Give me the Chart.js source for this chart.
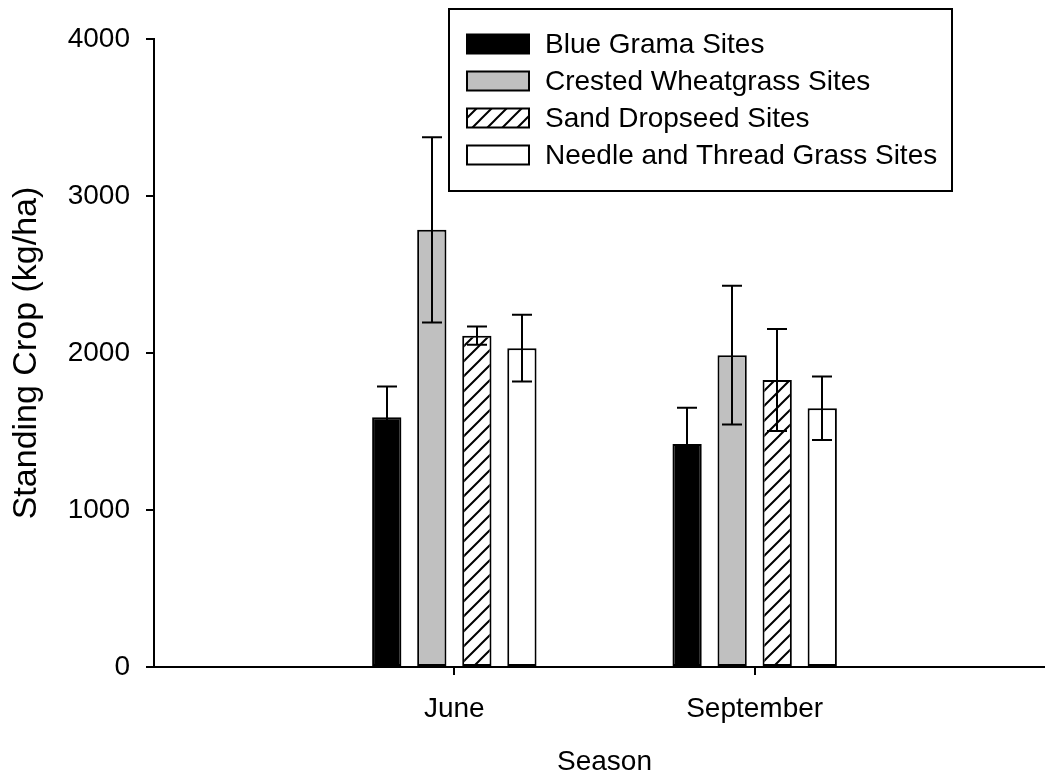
<!DOCTYPE html>
<html>
<head>
<meta charset="utf-8">
<script src="https://cdn.jsdelivr.net/npm/chart.js@4.4.1/dist/chart.umd.min.js"></script>
<style>
  html, body { margin: 0; padding: 0; background: #ffffff; overflow: hidden; }
  #wrap { width: 1045px; height: 776px; overflow: hidden; }
  #c { display: block; }
</style>
</head>
<body>
<div id="wrap"><canvas id="c" width="1072" height="776"></canvas></div>
<script>
// ---- data ----
const categories = ['', 'June', 'September', ''];
const seriesNames = ['Blue Grama Sites', 'Crested Wheatgrass Sites', 'Sand Dropseed Sites', 'Needle and Thread Grass Sites'];
const blueGrama = [null, 1590, 1420, null];
const blueGramaErr = [null, 197, 231, null];
const crestedWheatgrass = [null, 2785, 1986, null];
const crestedWheatgrassErr = [null, 590, 442, null];
const sandDropseed = [null, 2110, 1828, null];
const sandDropseedErr = [null, 58, 325, null];
const needleThread = [null, 2031, 1648, null];
const needleThreadErr = [null, 213, 202, null];
const yTicks = [0, 1000, 2000, 3000, 4000];

const FONT = 'Arial, "Liberation Sans", sans-serif';

// hatch pattern
function makeHatch() {
  const s = 15;
  const pc = document.createElement('canvas');
  pc.width = s; pc.height = s;
  const g = pc.getContext('2d');
  g.fillStyle = '#ffffff';
  g.fillRect(0, 0, s, s);
  g.strokeStyle = '#000000';
  g.lineWidth = 2;
  g.beginPath();
  g.moveTo(-2, s + 2); g.lineTo(s + 2, -2);
  g.moveTo(-2, 2); g.lineTo(2, -2);
  g.moveTo(s - 2, s + 2); g.lineTo(s + 2, s - 2);
  g.stroke();
  return document.getElementById('c').getContext('2d').createPattern(pc, 'repeat');
}
const hatch = makeHatch();

const fills = ['#000000', '#c0c0c0', hatch, '#ffffff'];
const values = [blueGrama, crestedWheatgrass, sandDropseed, needleThread];
const errors = [blueGramaErr, crestedWheatgrassErr, sandDropseedErr, needleThreadErr];

const datasets = seriesNames.map((name, i) => ({
  label: name,
  data: values[i],
  errors: errors[i],
  backgroundColor: fills[i],
  borderColor: '#000000',
  borderWidth: 2,
  borderSkipped: false,
  categoryPercentage: 0.6,
  barPercentage: 0.65
}));

const errorBarPlugin = {
  id: 'errorBars',
  afterDatasetsDraw(chart) {
    const ctx = chart.ctx;
    const y = chart.scales.y;
    ctx.save();
    ctx.strokeStyle = '#000000';
    ctx.lineWidth = 2;
    chart.data.datasets.forEach((ds, i) => {
      const meta = chart.getDatasetMeta(i);
      ds.data.forEach((v, j) => {
        if (v === null || v === undefined) return;
        const e = ds.errors[j];
        const bar = meta.data[j];
        const x = Math.round(bar.x);
        const yt = y.getPixelForValue(v + e);
        const yb = y.getPixelForValue(v - e);
        const cap = 10;
        ctx.beginPath();
        ctx.moveTo(x, yt); ctx.lineTo(x, yb);
        ctx.moveTo(x - cap, yt); ctx.lineTo(x + cap, yt);
        ctx.moveTo(x - cap, yb); ctx.lineTo(x + cap, yb);
        ctx.stroke();
      });
    });
    ctx.restore();
  }
};

const legendPlugin = {
  id: 'boxLegend',
  afterDraw(chart) {
    const ctx = chart.ctx;
    ctx.save();
    const bx = 449, by = 9, bw = 503, bh = 182;
    ctx.fillStyle = '#ffffff';
    ctx.fillRect(bx, by, bw, bh);
    ctx.strokeStyle = '#000000';
    ctx.lineWidth = 2;
    ctx.strokeRect(bx, by, bw, bh);
    const rows = [44, 81, 118, 155];
    ctx.font = '28px ' + FONT;
    ctx.textBaseline = 'middle';
    chart.data.datasets.forEach((ds, i) => {
      const cy = rows[i];
      ctx.fillStyle = ds.backgroundColor;
      ctx.fillRect(467, cy - 9.5, 62, 19);
      ctx.strokeStyle = '#000000';
      ctx.lineWidth = 2;
      ctx.strokeRect(467, cy - 9.5, 62, 19);
      ctx.fillStyle = '#000000';
      ctx.fillText(ds.label, 545, cy + 1);
    });
    ctx.restore();
  }
};

new Chart(document.getElementById('c'), {
  type: 'bar',
  data: { labels: categories, datasets: datasets },
  options: {
    responsive: false,
    animation: false,
    devicePixelRatio: 1,
    layout: { padding: { top: 39, right: 0, left: 0, bottom: 0 } },
    plugins: { legend: { display: false }, tooltip: { enabled: false } },
    scales: {
      x: {
        type: 'category',
        offset: false,
        grid: {
          offset: false,
          drawOnChartArea: false,
          drawTicks: true,
          tickLength: 8,
          lineWidth: 2,
          color: (c) => (c.tick && c.tick.label) ? '#000000' : 'rgba(0,0,0,0)'
        },
        border: { display: true, color: '#000000', width: 2 },
        ticks: {
          color: '#000000',
          font: { family: FONT, size: 28 },
          padding: 17,
          maxRotation: 0,
          autoSkip: false
        },
        title: {
          display: true,
          text: 'Season',
          color: '#000000',
          font: { family: FONT, size: 28, lineHeight: 1.0 },
          padding: { top: 0, bottom: 0 }
        },
        afterFit(scale) { scale.height = 109; }
      },
      y: {
        min: 0,
        max: 4000,
        afterBuildTicks(scale) { scale.ticks = yTicks.map(v => ({ value: v })); },
        grid: {
          drawOnChartArea: false,
          drawTicks: true,
          tickLength: 8,
          lineWidth: 2,
          color: '#000000'
        },
        border: { display: true, color: '#000000', width: 2 },
        ticks: {
          color: '#000000',
          font: { family: FONT, size: 28 },
          padding: 16,
          callback: (v) => String(v)
        },
        title: {
          display: true,
          text: 'Standing Crop (kg/ha)',
          color: '#000000',
          font: { family: FONT, size: 34, lineHeight: 1.0 },
          padding: { top: 10, bottom: 0 }
        },
        afterFit(scale) { scale.width = 154; }
      }
    }
  },
  plugins: [errorBarPlugin, legendPlugin]
});
</script>
</body>
</html>
